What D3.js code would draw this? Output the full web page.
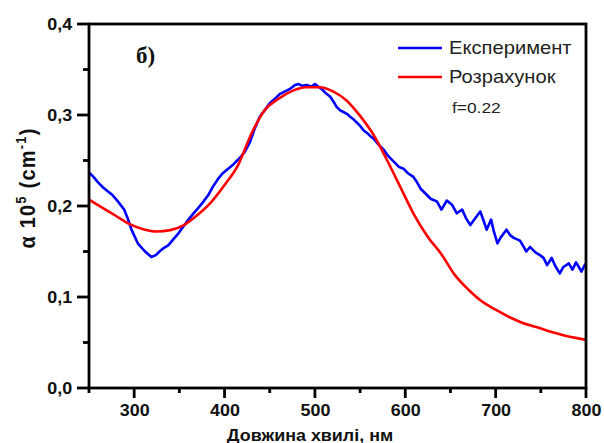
<!DOCTYPE html>
<html>
<head>
<meta charset="utf-8">
<script src="https://cdn.jsdelivr.net/npm/d3@7/dist/d3.min.js"></script>
<style>
  body { margin: 0; background: #fff; }
  svg { display: block; }
</style>
</head>
<body>
<svg id="chart" width="604" height="443"></svg>
<script>
// Measured absorption (blue) against the calculated curve (red), f=0.22.

var xTickValues = [300, 400, 500, 600, 700, 800];
var xMinorValues = [250, 350, 450, 550, 650, 750];
var yTickValues = [0, 0.1, 0.2, 0.3, 0.4];
var yTickLabels = ['0,0', '0,1', '0,2', '0,3', '0,4'];
var yMinorValues = [0.05, 0.15, 0.25, 0.35];

var seriesNames = ['Експеримент', 'Розрахунок'];
var seriesColors = ['#0000ff', '#ff0000'];

var expWave = [250, 255, 260, 265, 271, 276, 282, 289, 293, 297, 304, 312, 319, 324, 328,
  333, 338, 343, 349, 354, 360, 365, 371, 376, 382, 387, 393, 398, 404, 410, 417, 422,
  428, 433, 439, 445, 450, 456, 461, 467, 473, 478, 482, 486, 491, 496, 500, 504, 508,
  512, 517, 521, 524, 528, 532, 536, 539, 543, 546, 550, 554, 558, 561, 565, 570, 576,
  581, 587, 593, 598, 603, 609, 613, 617, 622, 628, 635, 640, 646, 652, 657, 663, 667,
  672, 677, 683, 687, 690, 695, 698, 702, 706, 712, 716, 720, 727, 734, 738, 744, 749,
  753, 757, 762, 766, 771, 775, 781, 785, 789, 795, 799, 800];
var expAlpha = [0.237, 0.232, 0.226, 0.221, 0.216, 0.212, 0.205, 0.196, 0.186, 0.174, 0.159,
  0.150, 0.144, 0.146, 0.150, 0.154, 0.157, 0.163, 0.170, 0.177, 0.185, 0.191, 0.198,
  0.204, 0.212, 0.221, 0.230, 0.236, 0.241, 0.246, 0.253, 0.259, 0.270, 0.284, 0.298,
  0.306, 0.313, 0.318, 0.323, 0.326, 0.329, 0.333, 0.334, 0.332, 0.333, 0.331, 0.334,
  0.331, 0.328, 0.324, 0.320, 0.314, 0.309, 0.305, 0.303, 0.301, 0.298, 0.295, 0.292,
  0.288, 0.283, 0.280, 0.277, 0.274, 0.268, 0.262, 0.255, 0.249, 0.243, 0.241, 0.236,
  0.232, 0.226, 0.219, 0.214, 0.208, 0.205, 0.196, 0.206, 0.201, 0.192, 0.196, 0.187,
  0.179, 0.186, 0.194, 0.183, 0.174, 0.185, 0.172, 0.159, 0.166, 0.174, 0.168, 0.165,
  0.162, 0.150, 0.155, 0.149, 0.146, 0.143, 0.135, 0.143, 0.134, 0.126, 0.133, 0.137,
  0.130, 0.138, 0.128, 0.136, 0.134];

// Calculation.
var calcWave = [250, 265, 280, 295, 310, 325, 340, 355, 370, 385, 400, 415, 430, 445, 460,
  475, 490, 505, 520, 535, 550, 565, 580, 595, 610, 625, 640, 655, 670, 685, 700, 715,
  730, 745, 760, 775, 790, 800];
var calcAlpha = [0.207, 0.198, 0.189, 0.180, 0.1745, 0.172, 0.1735, 0.179, 0.190, 0.204,
  0.223, 0.245, 0.280, 0.306, 0.318, 0.3265, 0.3305, 0.3305, 0.326, 0.316, 0.299, 0.278,
  0.250, 0.220, 0.190, 0.166, 0.147, 0.124, 0.108, 0.095, 0.086, 0.078, 0.0715, 0.067,
  0.062, 0.058, 0.0548, 0.053];

var svg = d3.select('#chart');
var plotLeft = 89, plotRight = 586, plotTop = 24, plotBottom = 388;
var font = '"Liberation Sans", Arial, sans-serif';
var stretch = 'scale(1.12,1)';

var x = d3.scaleLinear().domain([250, 800]).range([plotLeft, plotRight]);
var y = d3.scaleLinear().domain([0, 0.4]).range([plotBottom, plotTop]);

// Curves.
var line = d3.line()
  .x(function(d) { return x(d[0]); })
  .y(function(d) { return y(d[1]); });

var series = [d3.zip(expWave, expAlpha), d3.zip(calcWave, calcAlpha)];

svg.append('path')
  .datum(series[0])
  .attr('fill', 'none')
  .attr('stroke', seriesColors[0])
  .attr('stroke-width', 2.6)
  .attr('stroke-linejoin', 'round')
  .attr('d', line);

svg.append('path')
  .datum(series[1])
  .attr('fill', 'none')
  .attr('stroke', seriesColors[1])
  .attr('stroke-width', 2.6)
  .attr('d', line.curve(d3.curveMonotoneX));

// Tick labels from the axes; tick marks drawn below so they sit outside the frame.
var gx = svg.append('g').attr('transform', 'translate(0,' + plotBottom + ')');
gx.call(d3.axisBottom(x).tickValues(xTickValues).tickSize(0).tickPadding(17)
  .tickFormat(d3.format('d')));

var gy = svg.append('g').attr('transform', 'translate(' + plotLeft + ',0)');
gy.call(d3.axisLeft(y).tickValues(yTickValues).tickSize(0).tickPadding(15)
  .tickFormat(function(d, i) { return yTickLabels[i]; }));

svg.selectAll('.domain').remove();
svg.selectAll('.tick text')
  .attr('font-family', font)
  .attr('font-size', 16)
  .attr('font-weight', 'bold')
  .attr('fill', '#111')
  .attr('transform', stretch);

// Tick marks: major and minor on both axes.
var tickMarks = svg.append('g').attr('stroke', '#000').attr('stroke-width', 2.8);
function xTicks(values, len) {
  tickMarks.selectAll(null).data(values).enter().append('line')
    .attr('x1', function(d) { return x(d); })
    .attr('x2', function(d) { return x(d); })
    .attr('y1', plotBottom)
    .attr('y2', plotBottom + len);
}
function yTicks(values, len) {
  tickMarks.selectAll(null).data(values).enter().append('line')
    .attr('y1', function(d) { return y(d); })
    .attr('y2', function(d) { return y(d); })
    .attr('x1', plotLeft)
    .attr('x2', plotLeft - len);
}
xTicks(xTickValues, 10);
xTicks(xMinorValues, 5);
yTicks(yTickValues, 12);
yTicks(yMinorValues, 6);

// Frame.
svg.append('rect')
  .attr('x', plotLeft)
  .attr('y', plotTop)
  .attr('width', plotRight - plotLeft)
  .attr('height', plotBottom - plotTop)
  .attr('fill', 'none')
  .attr('stroke', '#000')
  .attr('stroke-width', 2.8);

// Axis titles.
svg.append('text')
  .attr('transform', 'translate(310,441) ' + stretch)
  .attr('text-anchor', 'middle')
  .attr('font-family', font)
  .attr('font-size', 16)
  .attr('font-weight', 'bold')
  .attr('fill', '#111')
  .text('Довжина хвилі, нм');

var yTitle = svg.append('text')
  .attr('transform', 'translate(35,188) rotate(-90) scale(1,1.12)')
  .attr('text-anchor', 'middle')
  .attr('font-family', font)
  .attr('font-size', 20)
  .attr('letter-spacing', 1.2)
  .attr('font-weight', 'bold')
  .attr('fill', '#111');
yTitle.append('tspan').text('α 10');
yTitle.append('tspan').attr('font-size', 13).attr('dy', -8).text('5');
yTitle.append('tspan').attr('dy', 8).text(' (cm');
yTitle.append('tspan').attr('font-size', 13).attr('dy', -8).text('-1');
yTitle.append('tspan').attr('dy', 8).text(')');

// Legend.
var legendY = [48, 77];
seriesNames.forEach(function(name, i) {
  svg.append('line')
    .attr('x1', 398).attr('x2', 442)
    .attr('y1', legendY[i]).attr('y2', legendY[i])
    .attr('stroke', seriesColors[i])
    .attr('stroke-width', 2.6);
  svg.append('text')
    .attr('transform', 'translate(449,' + (legendY[i] + 6) + ') ' + stretch)
    .attr('font-family', font)
    .attr('font-size', 18)
    .attr('fill', '#222')
    .text(name);
});

svg.append('text')
  .attr('transform', 'translate(452,113) ' + stretch)
  .attr('font-family', font)
  .attr('font-size', 15.5)
  .attr('fill', '#222')
  .text('f=0.22');

svg.append('text')
  .attr('x', 136)
  .attr('y', 63)
  .attr('font-family', '"Liberation Serif", "Times New Roman", serif')
  .attr('font-size', 23)
  .attr('font-weight', 'bold')
  .attr('fill', '#111')
  .text('б)');
</script>
</body>
</html>
